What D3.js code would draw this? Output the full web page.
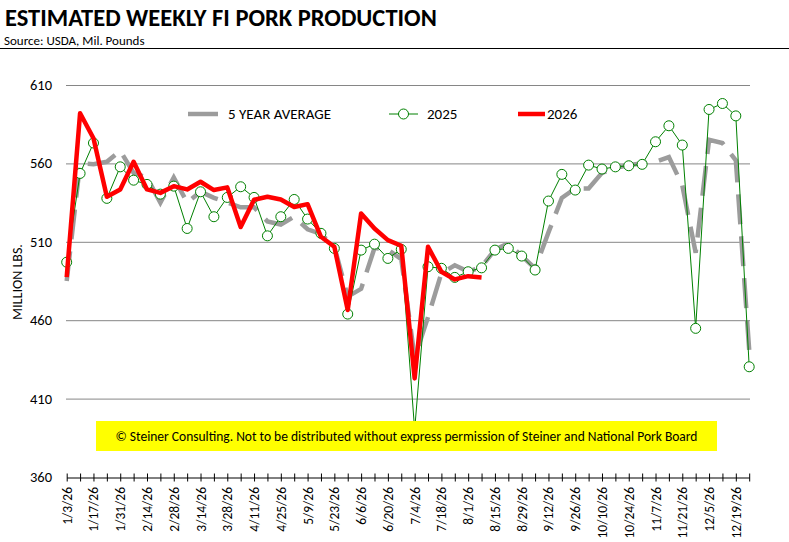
<!DOCTYPE html>
<html>
<head>
<meta charset="utf-8">
<script src="https://cdn.jsdelivr.net/npm/d3@7"></script>
<style>
  body { margin: 0; background: #fff; }
  text { font-family: Carlito, Calibri, Lato, sans-serif; fill: #000; }
</style>
</head>
<body>
<script>
// weekly categories (week ending)
var weeks = ['1/3/26','1/10/26','1/17/26','1/24/26','1/31/26','2/7/26','2/14/26','2/21/26','2/28/26','3/7/26',
  '3/14/26','3/21/26','3/28/26','4/4/26','4/11/26','4/18/26','4/25/26','5/2/26','5/9/26','5/16/26',
  '5/23/26','5/30/26','6/6/26','6/13/26','6/20/26','6/27/26','7/4/26','7/11/26','7/18/26','7/25/26',
  '8/1/26','8/8/26','8/15/26','8/22/26','8/29/26','9/5/26','9/12/26','9/19/26','9/26/26','10/3/26',
  '10/10/26','10/17/26','10/24/26','10/31/26','11/7/26','11/14/26','11/21/26','11/28/26','12/5/26','12/12/26',
  '12/19/26','12/26/26'];

// labels shown on the axis (every other week)
var weekLabels = ['1/3/26','1/17/26','1/31/26','2/14/26','2/28/26','3/14/26','3/28/26','4/11/26','4/25/26',
  '5/9/26','5/23/26','6/6/26','6/20/26','7/4/26','7/18/26','8/1/26','8/15/26','8/29/26','9/12/26',
  '9/26/26','10/10/26','10/24/26','11/7/26','11/21/26','12/5/26','12/19/26'];

var avg5 = [485, 560, 559.5, 561, 568, 554, 551, 535, 551, 535,
  542, 538, 535, 532, 532, 523, 521, 526, 518, 515,
  507, 475, 480, 506, 505, 499, 436, 462, 490, 495,
  491, 494, 505, 509, 501, 493, 516, 538, 544, 544,
  554, 557, 559, 560, 561, 564, 546, 503, 575, 573,
  562, 441];

var y2025 = [497, 553.6, 573, 537.7, 557.8, 549.3, 546.6, 540.4, 545.5, 518.5,
  541.9, 526, 538.3, 545.1, 538.3, 513.8, 526, 537, 524.5, 515.4,
  505.8, 463.9, 504.7, 508.5, 499.4, 505.2, 390, 494.1, 493.1, 487.3,
  490.9, 493.4, 504.7, 505.8, 500.9, 492, 536, 553, 543, 558.9,
  556.4, 557.8, 558.5, 559.4, 573.8, 584, 571.7, 454.8, 594.4, 598.2,
  590.3, 430.3];

var y2026 = [487.5, 592, 576, 538.7, 543.4, 561, 543.4, 541.2, 545.5, 543.4,
  548.3, 543, 544.7, 519.4, 536.8, 538.7, 537, 532.2, 534, 513.2,
  506.8, 466.5, 528.1, 518.5, 511.1, 507.5, 422.9, 506.8, 490.9, 486,
  488.1, 487.3];

var yTicks = [360, 410, 460, 510, 560, 610];

var breite = 789, hoehe = 542;

var svg = d3.select('body').append('svg')
  .attr('width', breite)
  .attr('height', hoehe);

var x = d3.scalePoint().domain(weeks).range([66.7, 749.2]);
var y = d3.scaleLinear().domain([360, 610]).range([477, 85]);

// title block
svg.append('text').attr('x', 5).attr('y', 26)
  .style('font-size', '24.5px').style('font-weight', 'bold')
  .text('ESTIMATED WEEKLY FI PORK PRODUCTION');
svg.append('text').attr('x', 4).attr('y', 44.5)
  .style('font-size', '13px')
  .text('Source: USDA, Mil. Pounds');
svg.append('line').attr('x1', 0).attr('x2', breite).attr('y1', 48.5).attr('y2', 48.5)
  .attr('stroke', '#000').attr('stroke-width', 1);

// gridlines
svg.selectAll('line.grid')
  .data(yTicks.slice(1))
  .enter().append('line')
  .attr('class', 'grid')
  .attr('x1', 66).attr('x2', 750)
  .attr('y1', function(d){ return y(d) + 0.5; })
  .attr('y2', function(d){ return y(d) + 0.5; })
  .attr('stroke', '#868686').attr('stroke-width', 1);

// y labels
svg.selectAll('text.ylab')
  .data(yTicks)
  .enter().append('text')
  .attr('class', 'ylab')
  .attr('x', 52).attr('y', function(d){ return y(d) + 5; })
  .attr('text-anchor', 'end')
  .style('font-size', '14.5px')
  .text(function(d){ return d; });

svg.append('text')
  .attr('transform', 'translate(22,282) rotate(-90)')
  .attr('text-anchor', 'middle')
  .style('font-size', '14px')
  .text('MILLION LBS.');

// x axis
var xAxis = svg.append('g')
  .attr('transform', 'translate(0,477.5)')
  .call(d3.axisBottom(x).tickValues(weeks).tickSize(4).tickSizeOuter(0).tickFormat(''));
xAxis.select('.domain').attr('stroke', '#000');
xAxis.selectAll('.tick line').attr('y1', -4).attr('y2', 4).attr('stroke', '#000');

svg.selectAll('text.xlab')
  .data(weekLabels)
  .enter().append('text')
  .attr('class', 'xlab')
  .attr('transform', function(d){ return 'translate(' + (x(d) + 5) + ',487) rotate(-90)'; })
  .attr('text-anchor', 'end')
  .style('font-size', '13.5px')
  .text(function(d){ return d; });

// series
var linie = d3.line()
  .x(function(d, i){ return x(weeks[i]); })
  .y(function(d){ return y(d); });

svg.append('path')
  .attr('d', linie(avg5))
  .attr('fill', 'none')
  .attr('stroke', '#9c9c9c')
  .attr('stroke-width', 4.5)
  .attr('stroke-dasharray', '30,12');

svg.append('path')
  .attr('d', linie(y2025))
  .attr('fill', 'none')
  .attr('stroke', '#008000')
  .attr('stroke-width', 1);

svg.selectAll('circle.p25')
  .data(y2025)
  .enter().append('circle')
  .attr('class', 'p25')
  .attr('cx', function(d, i){ return x(weeks[i]); })
  .attr('cy', function(d){ return y(d); })
  .attr('r', 5)
  .attr('fill', '#fff')
  .attr('stroke', '#008000')
  .attr('stroke-width', 1);

svg.append('path')
  .attr('d', linie(y2026))
  .attr('fill', 'none')
  .attr('stroke', '#ff0000')
  .attr('stroke-width', 4.5)
  .attr('stroke-linejoin', 'round');

// legend
var ly = 114;
svg.append('line').attr('x1', 188).attr('x2', 225).attr('y1', ly).attr('y2', ly)
  .attr('stroke', '#9c9c9c').attr('stroke-width', 4.5).attr('stroke-dasharray', '30,12');
svg.append('text').attr('x', 228).attr('y', ly + 5).style('font-size', '15px').text('5 YEAR AVERAGE');

svg.append('line').attr('x1', 389).attr('x2', 418).attr('y1', ly).attr('y2', ly)
  .attr('stroke', '#008000').attr('stroke-width', 1);
svg.append('circle').attr('cx', 403.5).attr('cy', ly).attr('r', 5)
  .attr('fill', '#fff').attr('stroke', '#008000');
svg.append('text').attr('x', 427).attr('y', ly + 5).style('font-size', '15px').text('2025');

svg.append('line').attr('x1', 518).attr('x2', 545).attr('y1', ly).attr('y2', ly)
  .attr('stroke', '#ff0000').attr('stroke-width', 4.5);
svg.append('text').attr('x', 547).attr('y', ly + 5).style('font-size', '15px').text('2026');

// copyright box
svg.append('rect').attr('x', 96).attr('y', 421).attr('width', 621).attr('height', 30)
  .attr('fill', '#ffff00');
svg.append('text').attr('x', 406.5).attr('y', 440.5)
  .attr('text-anchor', 'middle')
  .style('font-size', '13.5px')
  .text('\u00a9 Steiner Consulting.  Not to be distributed without express permission of Steiner and National Pork Board');
</script>
</body>
</html>
